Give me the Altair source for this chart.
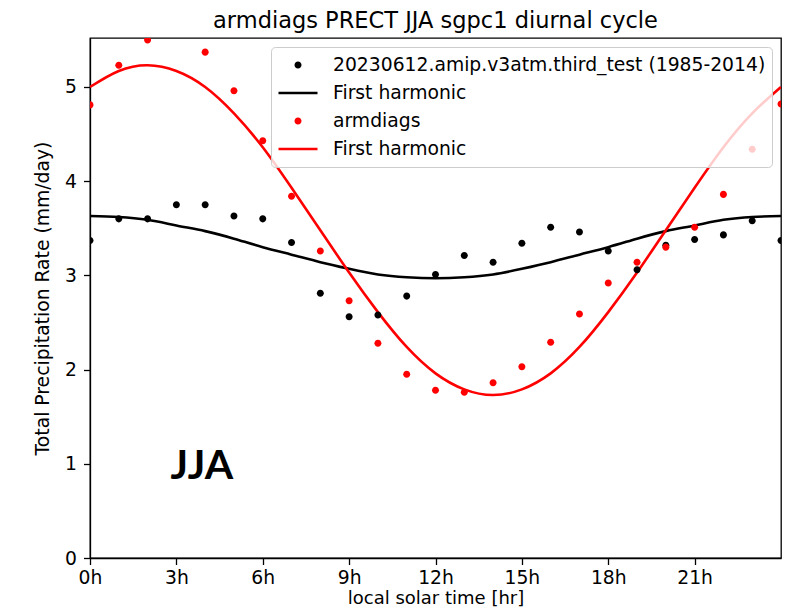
import altair as alt
import pandas as pd

# ---- data ----
hours = list(range(25))
model_pts = [3.37, 3.60, 3.60, 3.75, 3.75, 3.63, 3.60, 3.35, 2.81, 2.56, 2.58, 2.78, 3.01,
             3.21, 3.14, 3.34, 3.51, 3.46, 3.26, 3.06, 3.32, 3.38, 3.43, 3.58, 3.37]
model_fit = [3.63, 3.62, 3.59, 3.53, 3.47, 3.39, 3.30, 3.22, 3.14, 3.07, 3.01, 2.98, 2.97,
             2.98, 3.01, 3.07, 3.14, 3.22, 3.30, 3.39, 3.47, 3.53, 3.59, 3.62, 3.63]
obs_pts = [4.81, 5.23, 5.50, 5.58, 5.37, 4.96, 4.43, 3.84, 3.26, 2.73, 2.28, 1.95, 1.78,
           1.76, 1.86, 2.03, 2.29, 2.59, 2.92, 3.14, 3.30, 3.51, 3.86, 4.34, 4.82]
obs_fit = [5.00, 5.17, 5.23, 5.17, 5.00, 4.72, 4.36, 3.93, 3.48, 3.03, 2.61, 2.24, 1.96,
           1.79, 1.73, 1.79, 1.96, 2.24, 2.61, 3.03, 3.48, 3.93, 4.36, 4.72, 5.00]

series_keys = ["mp", "mf", "op", "of"]
series_labels = ["20230612.amip.v3atm.third_test (1985-2014)", "First harmonic",
                 "armdiags", "First harmonic"]
x_ticks = [0, 3, 6, 9, 12, 15, 18, 21]
y_ticks = [0, 1, 2, 3, 4, 5]
title_text = "armdiags PRECT JJA sgpc1 diurnal cycle"
x_title = "local solar time [hr]"
y_title = "Total Precipitation Rate (mm/day)"
ann_x = [2.8]
ann_y = [0.84]
ann_text = ["JJA"]

# ---- tables ----
pts = pd.DataFrame({
    "hour": hours + hours,
    "value": model_pts + obs_pts,
    "series": ["mp"] * len(hours) + ["op"] * len(hours),
})
fits = pd.DataFrame({
    "hour": hours + hours,
    "value": model_fit + obs_fit,
    "series": ["mf"] * len(hours) + ["of"] * len(hours),
})
ann = pd.DataFrame({"hour": ann_x, "value": ann_y, "text": ann_text})

FONT = "DejaVu Sans"
SYM = 1521  # symbol size -> 39 px legend column
r = 0.18
circle_path = f"M{-r},0A{r},{r} 0 1,0 {r},0A{r},{r} 0 1,0 {-r},0Z"
line_path = "M-1,0H1"

x_scale = alt.Scale(domain=[0, 24], nice=False, zero=False)
y_scale = alt.Scale(domain=[0, 5.52], nice=False)

x_enc = alt.X("hour:Q", scale=x_scale,
              axis=alt.Axis(values=x_ticks, labelExpr="datum.value + 'h'", title=x_title,
                            tickSize=6.5, labelPadding=4, titlePadding=2, labelFlush=False,
                            titleFontSize=18))
y_enc = alt.Y("value:Q", scale=y_scale,
              axis=alt.Axis(values=y_ticks, format="d", title=y_title, tickSize=6.5,
                            labelPadding=7, titlePadding=12, labelFlush=False))

label_expr = ("datum.label == 'mp' ? '" + series_labels[0] + "' : "
              "(datum.label == 'op' ? '" + series_labels[2] + "' : '" + series_labels[1] + "')")

legend = alt.Legend(
    title=None, orient="top-right", offset=9, labelExpr=label_expr, labelLimit=0,
    labelFont=FONT, labelFontSize=18.75, labelColor="black", labelOffset=14,
    fillColor="rgba(255,255,255,0.8)", strokeColor="#cccccc", cornerRadius=4,
    padding=6, clipHeight=24, rowPadding=4, symbolSize=SYM, symbolStrokeWidth=2.6,
)

fill_scale = alt.Scale(domain=series_keys, range=["black", "transparent", "red", "transparent"])
stroke_scale = alt.Scale(domain=series_keys, range=["transparent", "black", "transparent", "red"])
shape_scale = alt.Scale(domain=series_keys, range=[circle_path, line_path, circle_path, line_path])

lines = alt.Chart(fits).mark_line(strokeWidth=2.6, interpolate="natural", clip=True).encode(
    x=x_enc, y=y_enc,
    color=alt.Color("series:N", scale=alt.Scale(domain=["mf", "of"], range=["black", "red"]),
                    legend=None),
    detail="series:N",
)

points = alt.Chart(pts).mark_point(filled=True, size=SYM, opacity=1, strokeWidth=2.6,
                                   clip=True).encode(
    x=x_enc, y=y_enc,
    fill=alt.Fill("series:N", scale=fill_scale, legend=legend),
    stroke=alt.Stroke("series:N", scale=stroke_scale, legend=legend),
    shape=alt.Shape("series:N", scale=shape_scale, legend=legend),
)

label = alt.Chart(ann).mark_text(align="left", baseline="alphabetic", font="Lato",
                                 fontWeight="bold", fontSize=41, color="black").encode(
    x=alt.X("hour:Q", scale=x_scale), y=alt.Y("value:Q", scale=y_scale), text="text:N")

chart = alt.layer(lines, points, label).properties(
    width=691, height=520,
    title=alt.Title(title_text, font=FONT, fontSize=22.5, fontWeight="normal",
                    color="black", anchor="middle", offset=6),
    autosize=alt.AutoSizeParams(type="none"),
    padding={"left": 82, "top": 30, "right": 4, "bottom": 50},
).resolve_scale(color="independent").configure_view(
    stroke="black", strokeWidth=1.3
).configure_axis(
    grid=False, domainColor="black", tickColor="black", labelColor="black",
    titleColor="black", labelFont=FONT, titleFont=FONT, labelFontSize=18.75,
    titleFontSize=18.75, titleFontWeight="normal", domainWidth=1.3, tickWidth=1.3,
)

chart.save("out.html", embed_options={"renderer": "svg", "actions": False})
